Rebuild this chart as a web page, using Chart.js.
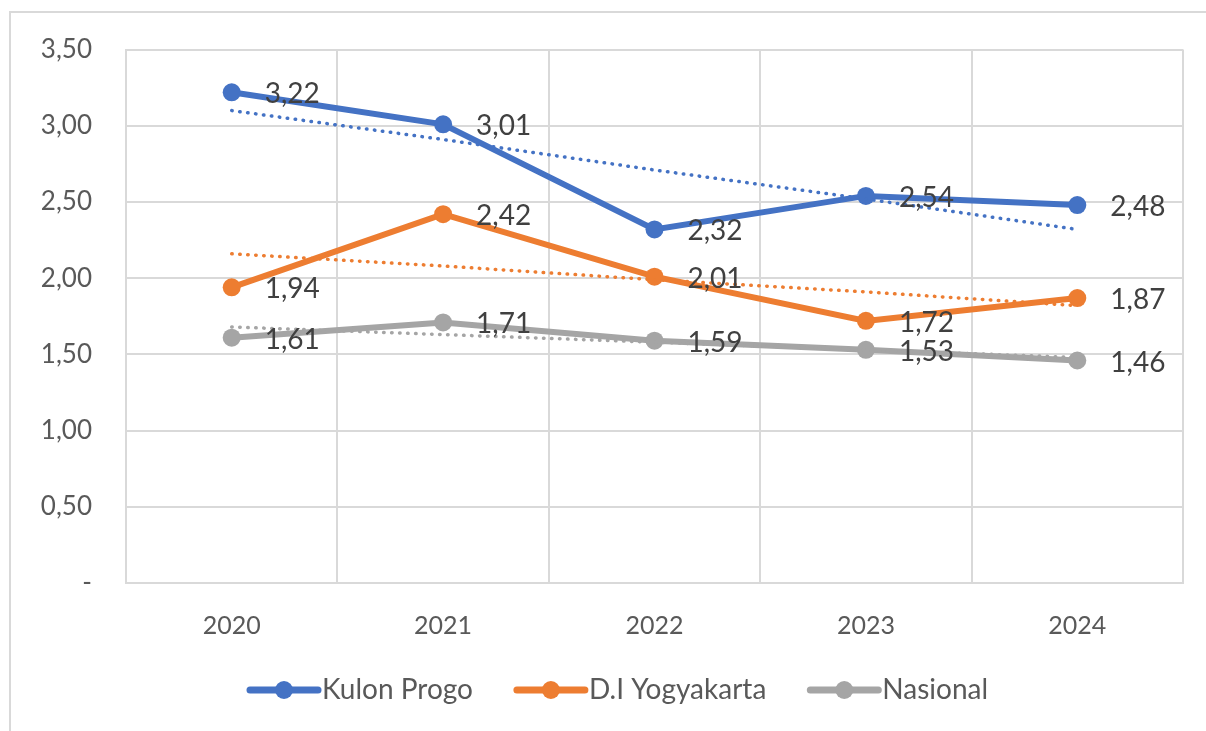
<!DOCTYPE html>
<html>
<head>
<meta charset="utf-8">
<script src="https://cdn.jsdelivr.net/npm/chart.js@4.4.1/dist/chart.umd.min.js"></script>
<style>
  html, body { margin: 0; padding: 0; background: #ffffff; }
  #wrap { position: relative; width: 1206px; height: 731px; overflow: hidden; }
  #frame { position: absolute; left: 9px; top: 11px; width: 1300px; height: 800px;
           border-left: 2px solid #d9d9d9; border-top: 2px solid #d9d9d9; box-sizing: border-box; }
  canvas { position: absolute; left: 0; top: 0; }
</style>
</head>
<body>
<div id="wrap">
  <div id="frame"></div>
  <canvas id="c" width="1206" height="731"></canvas>
</div>
<script>
const categories = ['2020', '2021', '2022', '2023', '2024'];
const kulonProgo = [3.22, 3.01, 2.32, 2.54, 2.48];
const yogyakarta = [1.94, 2.42, 2.01, 1.72, 1.87];
const nasional = [1.61, 1.71, 1.59, 1.53, 1.46];
const trendKulonProgo = [3.10, 2.91, 2.71, 2.52, 2.32];
const trendYogyakarta = [2.16, 2.08, 1.99, 1.91, 1.82];
const trendNasional = [1.68, 1.63, 1.58, 1.53, 1.48];
const yMin = 0, yMax = 3.5, yStep = 0.5;

const BLUE = '#4472C4', ORANGE = '#ED7D31', GRAY = '#A5A5A5';
const FONT = 'Lato, "Open Sans", sans-serif';

function fmt(v) { return v === 0 ? '-' : v.toFixed(2).replace('.', ','); }

function series(label, data, color) {
  return { label, data, borderColor: color, backgroundColor: color,
    borderWidth: 6, pointRadius: 9, pointHoverRadius: 9, pointBackgroundColor: color,
    pointBorderWidth: 0, tension: 0, isMain: true };
}
function trend(data, color) {
  return { label: 'trend', data, borderColor: color, borderWidth: 3.5, borderDash: [0.5, 7.5],
    borderCapStyle: 'round', pointRadius: 0, tension: 0, fill: false, isMain: false };
}

const labelsPlugin = {
  id: 'valueLabels',
  afterDatasetsDraw(chart) {
    const ctx = chart.ctx;
    ctx.save();
    ctx.font = '28px ' + FONT;
    ctx.fillStyle = '#404040';
    ctx.textAlign = 'left';
    ctx.textBaseline = 'middle';
    chart.data.datasets.forEach((ds, i) => {
      if (!ds.isMain) return;
      const meta = chart.getDatasetMeta(i);
      meta.data.forEach((pt, j) => {
        ctx.fillText(fmt(ds.data[j]), pt.x + 33, pt.y + 2);
      });
    });
    ctx.restore();
  }
};

const legendPlugin = {
  id: 'customLegend',
  afterDraw(chart) {
    const ctx = chart.ctx;
    ctx.save();
    ctx.font = '28px ' + FONT;
    ctx.textBaseline = 'middle';
    ctx.textAlign = 'left';
    const items = chart.data.datasets.filter(d => d.isMain);
    const lineW = 68, gapText = 4, gapItem = 44;
    let x = 250;
    const y = 690;
    items.forEach(d => {
      ctx.strokeStyle = d.borderColor;
      ctx.lineWidth = 7;
      ctx.lineCap = 'round';
      ctx.beginPath(); ctx.moveTo(x, y); ctx.lineTo(x + lineW, y); ctx.stroke();
      ctx.fillStyle = d.borderColor;
      ctx.beginPath(); ctx.arc(x + lineW / 2, y, 9, 0, Math.PI * 2); ctx.fill();
      ctx.fillStyle = '#595959';
      ctx.fillText(d.label, x + lineW + gapText, y);
      x += lineW + gapText + ctx.measureText(d.label).width + gapItem;
    });
    ctx.restore();
  }
};

new Chart(document.getElementById('c'), {
  type: 'line',
  data: {
    labels: categories,
    datasets: [
      trend(trendKulonProgo, BLUE),
      trend(trendYogyakarta, ORANGE),
      trend(trendNasional, GRAY),
      series('Kulon Progo', kulonProgo, BLUE),
      series('D.I Yogyakarta', yogyakarta, ORANGE),
      series('Nasional', nasional, GRAY)
    ]
  },
  options: {
    responsive: false,
    animation: false,
    devicePixelRatio: 1,
    layout: { padding: { left: 0, right: 23, top: 48, bottom: 78 } },
    plugins: { legend: { display: false }, tooltip: { enabled: false } },
    scales: {
      x: {
        offset: true,
        grid: { offset: true, color: '#d9d9d9', lineWidth: 2, drawTicks: false },
        border: { display: true, color: '#d9d9d9', width: 2 },
        ticks: { color: '#595959', font: { family: FONT, size: 25 }, padding: 28 },
        afterFit(s) { s.height = 70; }
      },
      y: {
        min: yMin, max: yMax,
        grid: { color: '#d9d9d9', lineWidth: 2, drawTicks: false },
        border: { display: true, color: '#d9d9d9', width: 2 },
        ticks: { stepSize: yStep, color: '#595959', font: { family: FONT, size: 26 },
                 padding: 34, callback: v => fmt(v) },
        afterFit(s) { s.width = 126; }
      }
    }
  },
  plugins: [labelsPlugin, legendPlugin]
});
</script>
</body>
</html>
